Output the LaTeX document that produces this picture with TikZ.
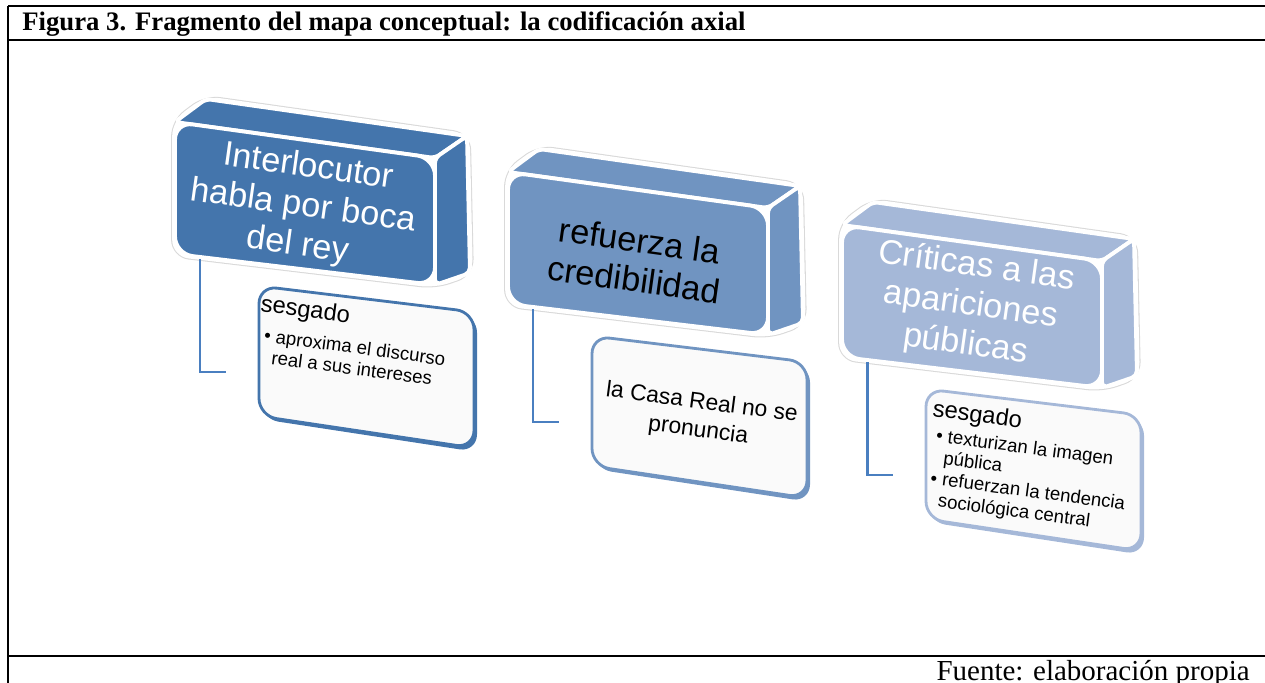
\documentclass[tikz,border=0pt]{standalone}
\usepackage{fontspec}
\setmainfont{Liberation Serif}
\newfontfamily\arial{Liberation Sans}

\definecolor{azulA}{HTML}{4475AC}
\definecolor{azulB}{HTML}{7094C1}
\definecolor{azulC}{HTML}{A5B8D8}
\definecolor{enlazul}{HTML}{4A7FC0}

\tikzset{
  marco/.style={line width=1.2pt},
  cara/.style={draw=white, line width=2.2pt, line join=round},
  contorno/.style={fill=white, draw=white, line width=3.2pt, line join=round,
    rounded corners=8, preaction={draw=black!15, line width=4.4pt}},
  enlace/.style={draw=enlazul, line width=1.7pt},
  rotulo/.style={font=\arial\fontsize{19.5}{22.5}\selectfont, align=center,
    rotate=-8, inner sep=0pt},
  subtexto/.style={font=\arial, align=left, rotate=-7.5, inner sep=0pt},
}

\begin{document}
\begin{tikzpicture}[x=0.02cm, y=-0.02cm]
  \useasboundingbox (0,0) rectangle (1265,683);
  % 表格框线
  \draw[marco] (8,6) -- (1265,6);
  \draw[marco] (8,40) -- (1265,40);
  \draw[marco] (8,656) -- (1265,656);
  \draw[marco] (8,6) -- (8,683);
  % 标题与来源
  \node[anchor=base west, inner sep=0pt, font=\bfseries\fontsize{15.2}{17}\selectfont]
    (titulo) at (22,30) {Figura 3. Fragmento del mapa conceptual: la codificación axial};
  \node[anchor=base east, inner sep=0pt, font=\fontsize{16.5}{18}\selectfont]
    (fuente) at (1250,680) {Fuente: elaboración propia};
  % 三个立体方块与下方小框
  \foreach \i/\x/\y/\col in {1/175/122/azulA, 2/508/172/azulB, 3/842/225/azulC} {
    \begin{scope}[shift={(\x,\y)}]
      \path[contorno] (0,132) -- (0,0) -- (31,-23) -- (292,14) -- (295,151) -- (260,163) -- cycle;
      \filldraw[cara, fill=\col, rounded corners=3] (0,0) -- (31,-23) -- (292,14) -- (260,36) -- cycle;   % 顶面
      \filldraw[cara, fill=\col, rounded corners=3] (260,36) -- (292,14) -- (295,151) -- (260,163) -- cycle; % 侧面
      \filldraw[cara, fill=\col, rounded corners=10] (0,0) -- (260,36) -- (260,163) -- (0,132) -- cycle;   % 正面
      \fill[\col, rounded corners=10] (86,167) -- (302,193) -- (302,330) -- (86,297) -- cycle;            % 小框阴影
      \filldraw[draw=\col, fill=black!2, line width=1.6pt, rounded corners=10]
        (84,164) -- (299,190) -- (299,326) -- (84,294) -- cycle;
      \coordinate (a\i) at (25,137);
      \coordinate (b\i) at (51,250);
    \end{scope}
    \draw[enlace] (a\i) |- (b\i);                                                            % 连接线
  }
  % 方块文字
  \node[rotulo, text=white] (t1) at (303,207) {Interlocutor\\habla por boca\\del rey};
  \node[rotulo, text=black] (t2) at (637,260) {refuerza la\\credibilidad};
  \node[rotulo, text=white] (t3) at (971,306) {Críticas a las\\apariciones\\públicas};
  % 小框文字
  \node[subtexto, anchor=north west, font=\arial\fontsize{13.5}{15}\selectfont] (s1) at (262,294) {sesgado};
  \node[subtexto, anchor=north west, font=\arial\fontsize{10.6}{12}\selectfont] (v1) at (265,328)
    {\textbullet\ aproxima el discurso\\\hspace*{0.55em}real a sus intereses};
  \node[subtexto, anchor=center, align=center, font=\arial\fontsize{13}{16}\selectfont] (c2) at (700,417)
    {la Casa Real no se\\pronuncia};
  \node[subtexto, anchor=north west, font=\arial\fontsize{13.5}{15}\selectfont] (s3) at (934,399) {sesgado};
  \node[subtexto, anchor=north west, font=\arial\fontsize{10.6}{12.2}\selectfont] (v3) at (937,428)
    {\textbullet\ texturizan la imagen\\\hspace*{0.55em}pública\\\textbullet\ refuerzan la tendencia\\\hspace*{0.55em}sociológica central};
\end{tikzpicture}
\end{document}
